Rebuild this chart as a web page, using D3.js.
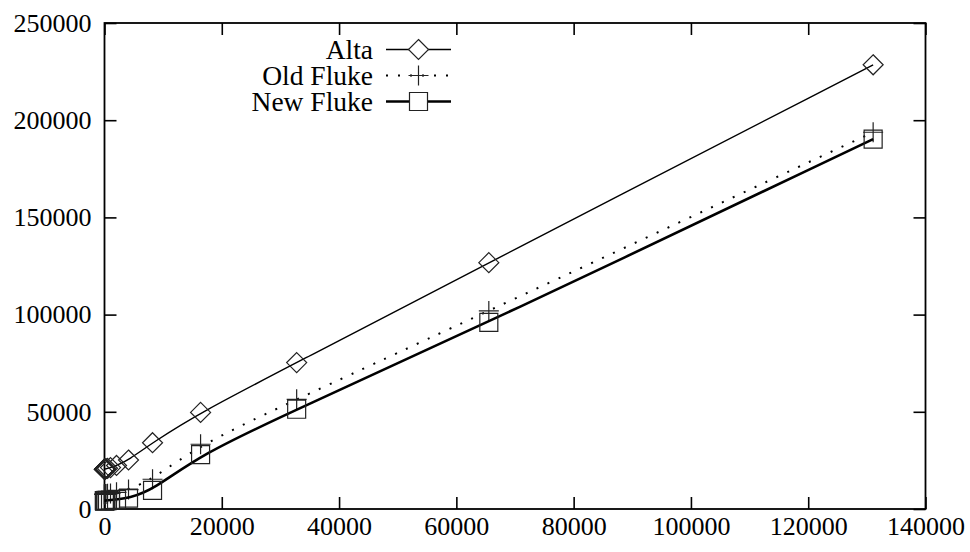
<!DOCTYPE html>
<html>
<head>
<meta charset="utf-8">
<script src="https://cdn.jsdelivr.net/npm/d3@7"></script>
<style>
  html, body { margin: 0; padding: 0; background: #fff; }
  svg { display: block; }
  text { font-family: "Liberation Serif", "DejaVu Serif", serif; fill: #000; }
</style>
</head>
<body>
<svg id="chart" width="970" height="552"></svg>
<script>
// ---- data ----
const sizes = [1,2,4,8,16,32,64,128,256,512,1024,2048,4096,8192,16384,32768,65536,131072];
const alta = [20500,20500,20500,20500,20500,20500,20500,20600,20700,20900,21300,22400,25200,34100,49700,75300,126700,228500];
const oldFluke = [7600,7600,7600,7600,7600,7600,7600,7700,7700,7800,8000,8600,10000,15300,33300,56400,101900,193800];
const newFluke = [4300,4300,4300,4300,4300,4300,4300,4300,4400,4500,4600,5000,5600,9600,28000,51300,96000,190300];
const seriesNames = ["Alta", "Old Fluke", "New Fluke"];
const xTicks = [0,20000,40000,60000,80000,100000,120000,140000];
const yTicks = [0,50000,100000,150000,200000,250000];

// ---- layout ----
const L = 104.5, R = 925.5, T = 23, B = 509;
const svg = d3.select("#chart");
const x = d3.scaleLinear().domain([0,140000]).range([L,R]);
const y = d3.scaleLinear().domain([0,250000]).range([B,T]);

const series = [
  {name: seriesNames[0], vals: alta, width: 1.4, dash: null, marker: "diamond"},
  {name: seriesNames[1], vals: oldFluke, width: 2, dash: "2,10", marker: "plus"},
  {name: seriesNames[2], vals: newFluke, width: 2.6, dash: null, marker: "square"}
];

const tickLen = 12;
const fontSize = 26;
function styleAxis(g) {
  g.select(".domain").remove();
  g.selectAll("text").style("font-size", fontSize+"px").attr("fill","#000");
  g.selectAll("line").attr("stroke","#000").attr("stroke-width",1.6);
}
svg.append("g").attr("transform", `translate(0,${B})`)
  .call(d3.axisBottom(x).tickValues(xTicks).tickSize(-tickLen).tickPadding(8).tickFormat(d3.format("d")))
  .call(styleAxis);
svg.append("g").attr("transform", `translate(0,${T})`)
  .call(d3.axisTop(x).tickValues(xTicks).tickSize(-tickLen).tickFormat(""))
  .call(styleAxis);
svg.append("g").attr("transform", `translate(${L},0)`)
  .call(d3.axisLeft(y).tickValues(yTicks).tickSize(-tickLen).tickPadding(13).tickFormat(d3.format("d")))
  .call(styleAxis);
svg.append("g").attr("transform", `translate(${R},0)`)
  .call(d3.axisRight(y).tickValues(yTicks).tickSize(-tickLen).tickFormat(""))
  .call(styleAxis);

// frame
svg.append("rect").attr("x",L).attr("y",T).attr("width",R-L).attr("height",B-T)
  .attr("fill","none").attr("stroke","#000").attr("stroke-width",1.8);

function markerPath(type, cx, cy) {
  if (type === "diamond") return `M${cx},${cy-10}L${cx+10},${cy}L${cx},${cy+10}L${cx-10},${cy}Z`;
  if (type === "square") return `M${cx-9},${cy-9}h18v18h-18Z`;
  return `M${cx-10},${cy}h20M${cx},${cy-10}v20`;
}

const line = d3.line().curve(d3.curveBasis);
series.forEach(s => {
  const pts = sizes.map((v,i) => [x(v), y(s.vals[i])]);
  const p = svg.append("path").attr("d", line(pts)).attr("fill","none")
    .attr("stroke","#000").attr("stroke-width", s.width);
  if (s.dash) p.attr("stroke-dasharray", s.dash);
  svg.append("g").selectAll("path").data(pts).join("path")
    .attr("d", d => markerPath(s.marker, d[0], d[1]))
    .attr("fill","none").attr("stroke","#222").attr("stroke-width",1.2);
});

// legend
const legX1 = 386, legX2 = 451, legTextX = 373;
series.forEach((s, i) => {
  const ly = 49.5 + i*26;
  svg.append("text").attr("x", legTextX).attr("y", ly+9).attr("text-anchor","end")
    .style("font-size", "27.5px").text(s.name);
  const p = svg.append("line").attr("x1",legX1).attr("x2",legX2).attr("y1",ly).attr("y2",ly)
    .attr("stroke","#000").attr("stroke-width", s.width);
  if (s.dash) p.attr("stroke-dasharray", s.dash);
  svg.append("path").attr("d", markerPath(s.marker, (legX1+legX2)/2, ly))
    .attr("fill", s.marker === "plus" ? "none" : "#fff").attr("stroke","#222").attr("stroke-width",1.2);
});
</script>
</body>
</html>
